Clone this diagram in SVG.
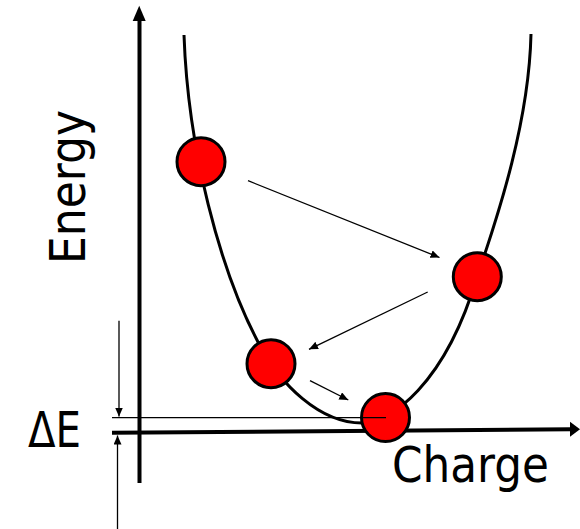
<svg xmlns="http://www.w3.org/2000/svg" width="580" height="529" viewBox="0 0 580 529">
  <style>
    .axis { stroke: #000; stroke-width: 4; fill: none; }
    .curve { stroke: #000; stroke-width: 3; fill: none; }
    .thin { stroke: #000; stroke-width: 1.3; fill: none; }
    .ball { fill: #ff0000; stroke: #000; stroke-width: 3; }
    .lbl { font-family: "DejaVu Sans", Verdana, sans-serif; font-size: 49px; fill: #000; }
  </style>
  <defs>
    <marker id="ah" markerUnits="userSpaceOnUse" markerWidth="10" markerHeight="8" refX="9" refY="4" orient="auto">
      <path d="M0,0 L9,4 L0,8 Z" fill="#000"/>
    </marker>
  </defs>
  <rect width="580" height="529" fill="#fff"/>

  <g id="axes">
    <line class="axis" x1="139.5" y1="483" x2="139.5" y2="20"/>
    <polygon points="132.7,21 139.2,5.7 145.7,21" fill="#000"/>
    <line class="axis" x1="112" y1="432.7" x2="571" y2="429.3"/>
    <polygon points="570,421.8 580,429.3 570,436.8" fill="#000"/>
  </g>

  <g id="energy-curve">
    <path class="curve" d="M184,35 C188,150 220,270 258,342 C280,385 320,423 362,423 C390,423 445,385 477,277 C500,210 529,120 531,34"/>
  </g>

  <g id="connectors">
    <line class="thin" x1="248" y1="180.7" x2="439.5" y2="257.5" marker-end="url(#ah)"/>
    <line class="thin" x1="427.7" y1="292" x2="309" y2="349.3" marker-end="url(#ah)"/>
    <line class="thin" x1="310" y1="380.7" x2="348.3" y2="400" marker-end="url(#ah)"/>
    <line class="thin" x1="119" y1="320.7" x2="119" y2="416.5" marker-end="url(#ah)"/>
    <line class="thin" x1="117.5" y1="529" x2="117.5" y2="435.5" marker-end="url(#ah)"/>
  </g>

  <g id="ball-1"><circle class="ball" cx="201" cy="161.7" r="24"/></g>
  <g id="ball-2"><circle class="ball" cx="477.3" cy="276.7" r="24"/></g>
  <g id="ball-3"><circle class="ball" cx="271" cy="363.7" r="24"/></g>
  <g id="ball-4"><circle class="ball" cx="385.5" cy="417.5" r="24"/></g>

  <g id="delta-line">
    <line class="thin" x1="112" y1="417.7" x2="386" y2="417.7"/>
  </g>

  <g id="labels">
    <text class="lbl" x="392" y="481.7" textLength="157" lengthAdjust="spacingAndGlyphs">Charge</text>
    <text class="lbl" x="28" y="446.7" textLength="53" lengthAdjust="spacingAndGlyphs">ΔE</text>
    <text class="lbl" transform="translate(85,264) rotate(-90)" x="0" y="0" textLength="154" lengthAdjust="spacingAndGlyphs">Energy</text>
  </g>
</svg>
